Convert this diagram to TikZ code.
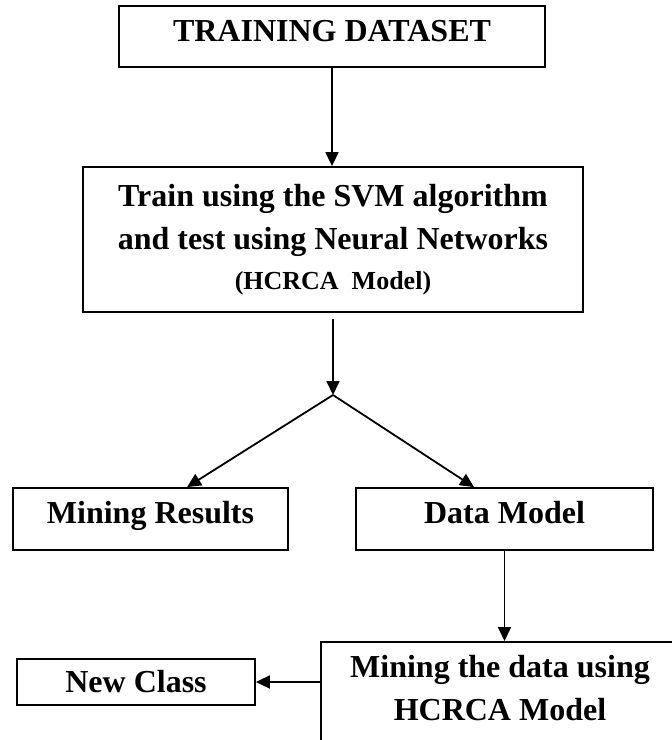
\documentclass[tikz,border=0pt]{standalone}
\usepackage{fontspec}
\setmainfont{Liberation Serif}
\usetikzlibrary{arrows.meta}
\begin{document}
\begin{tikzpicture}[x=1pt,y=-1pt,
  box/.style={draw, line width=1.8pt, inner sep=0pt, align=center,
    font=\bfseries\fontsize{32}{43}\selectfont},
  txt/.style={inner sep=0pt, align=center, font=\bfseries\fontsize{32}{43}\selectfont},
  arr/.style={line width=1.8pt, -{Triangle[length=14pt,width=13pt]}}]
\useasboundingbox (0,0) rectangle (672,740);
\clip (0,0) rectangle (672,740);
\node[box, minimum width=426pt, minimum height=61pt, text height=21pt, text depth=11pt] (A) at (332,36.5) {TRAINING DATASET};
\node[box, minimum width=500pt, minimum height=145pt] (B) at (333,239.5)
  {Train using the SVM algorithm\\and test using Neural Networks\\[-3pt]{\fontsize{26}{40}\selectfont(HCRCA\ \ Model)}};
\coordinate (J) at (333,395);
\node[box, minimum width=275pt, minimum height=62pt, text height=21pt, text depth=13pt] (C) at (150.5,519) {Mining Results};
\node[box, minimum width=297pt, minimum height=62pt, text height=21pt, text depth=13pt] (D) at (504.5,519) {Data Model};
\node[box, minimum width=400pt, minimum height=140pt, anchor=north west] (E) at (320,641) {};
\node[txt] (Et) at (500,688) {Mining the data using\\HCRCA Model};
\node[box, minimum width=238pt, minimum height=46pt] (F) at (136,682) {New Class};
\draw[arr] (A.south) -- (A.south |- B.north);
\draw[arr] ([yshift=-6pt]B.south) -- (J);
\draw[arr] (J) -- ([xshift=36.5pt]C.north);
\draw[arr] (J) -- ([xshift=-30.5pt]D.north);
\draw[arr] (D.south) -- (D.south |- E.north);
\draw[arr] (E.west |- F.east) -- (F.east);
\end{tikzpicture}
\end{document}
